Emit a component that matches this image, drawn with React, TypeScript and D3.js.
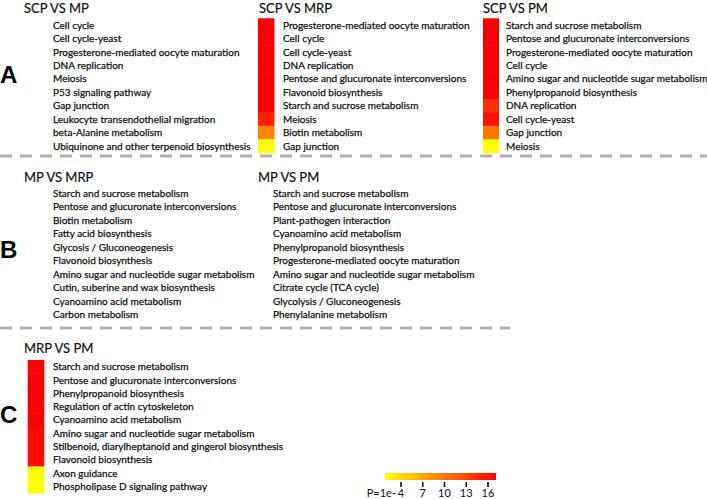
import React from 'react';
import * as d3 from 'd3';

// ---- data ----
const scpMpTerms = [
  'Cell cycle',
  'Cell cycle-yeast',
  'Progesterone-mediated oocyte maturation',
  'DNA replication',
  'Meiosis',
  'P53 signaling pathway',
  'Gap junction',
  'Leukocyte transendothelial migration',
  'beta-Alanine metabolism',
  'Ubiquinone and other terpenoid biosynthesis',
];
const scpMrpTerms = [
  'Progesterone-mediated oocyte maturation',
  'Cell cycle',
  'Cell cycle-yeast',
  'DNA replication',
  'Pentose and glucuronate interconversions',
  'Flavonoid biosynthesis',
  'Starch and sucrose metabolism',
  'Meiosis',
  'Biotin metabolism',
  'Gap junction',
];
const scpMrpLogP = [16, 16, 16, 16, 16, 16, 16, 14.5, 9.8, 4];
const scpPmTerms = [
  'Starch and sucrose metabolism',
  'Pentose and glucuronate interconversions',
  'Progesterone-mediated oocyte maturation',
  'Cell cycle',
  'Amino sugar and nucleotide sugar metabolism',
  'Phenylpropanoid biosynthesis',
  'DNA replication',
  'Cell cycle-yeast',
  'Gap junction',
  'Meiosis',
];
const scpPmLogP = [16, 16, 16, 16, 16, 16, 13.8, 15.2, 10.4, 4];
const mpMrpTerms = [
  'Starch and sucrose metabolism',
  'Pentose and glucuronate interconversions',
  'Biotin metabolism',
  'Fatty acid biosynthesis',
  'Glycosis / Gluconeogenesis',
  'Flavonoid biosynthesis',
  'Amino sugar and nucleotide sugar metabolism',
  'Cutin, suberine and wax biosynthesis',
  'Cyanoamino acid metabolism',
  'Carbon metabolism',
];
const mpPmTerms = [
  'Starch and sucrose metabolism',
  'Pentose and glucuronate interconversions',
  'Plant-pathogen interaction',
  'Cyanoamino acid metabolism',
  'Phenylpropanoid biosynthesis',
  'Progesterone-mediated oocyte maturation',
  'Amino sugar and nucleotide sugar metabolism',
  'Citrate cycle (TCA cycle)',
  'Glycolysis / Gluconeogenesis',
  'Phenylalanine metabolism',
];
const mrpPmTerms = [
  'Starch and sucrose metabolism',
  'Pentose and glucuronate interconversions',
  'Phenylpropanoid biosynthesis',
  'Regulation of actin cytoskeleton',
  'Cyanoamino acid metabolism',
  'Amino sugar and nucleotide sugar metabolism',
  'Stilbenoid, diarylheptanoid and gingerol biosynthesis',
  'Flavonoid biosynthesis',
  'Axon guidance',
  'Phospholipase D signaling pathway',
];
const mrpPmLogP = [16, 16, 16, 16, 16, 15.6, 15.6, 15.6, 4, 4];
const colorDomain = [4, 10, 16];
const legendTicks = [4, 7, 10, 13, 16];
const legendPrefix = 'P=1e-';

// ---- layout ----
const W = 707;
const H = 499;
const color = d3
  .scaleLinear<string>()
  .domain(colorDomain)
  .range(['#ffff00', '#ff8000', '#ff0000'])
  .clamp(true);

type Panel = {
  title: string;
  terms: string[];
  logP?: number[];
  titleX: number;
  titleY: number;
  textX: number;
  barX?: number;
  barW?: number;
  top: number;
  rowH: number;
};

const panels: Panel[] = [
  { title: 'SCP VS MP', terms: scpMpTerms, titleX: 24, titleY: 13, textX: 53, top: 18.3, rowH: 13.44 },
  { title: 'SCP VS MRP', terms: scpMrpTerms, logP: scpMrpLogP, titleX: 259, titleY: 13, textX: 283, barX: 258, barW: 16.5, top: 18.3, rowH: 13.44 },
  { title: 'SCP VS PM', terms: scpPmTerms, logP: scpPmLogP, titleX: 483, titleY: 13, textX: 506, barX: 483, barW: 16, top: 18.3, rowH: 13.44 },
  { title: 'MP VS MRP', terms: mpMrpTerms, titleX: 24, titleY: 182, textX: 53, top: 186.6, rowH: 13.5 },
  { title: 'MP VS PM', terms: mpPmTerms, titleX: 258, titleY: 182, textX: 273, top: 186.6, rowH: 13.5 },
  { title: 'MRP VS PM', terms: mrpPmTerms, logP: mrpPmLogP, titleX: 24, titleY: 352.5, textX: 53, barX: 27.7, barW: 16.6, top: 360, rowH: 13.3 },
];

const letters = [
  { t: 'A', y: 83 },
  { t: 'B', y: 258 },
  { t: 'C', y: 423 },
];

const FONT = 'Lato, "Open Sans", sans-serif';

function PanelView({ p }: { p: Panel }) {
  const y = d3
    .scaleBand<number>()
    .domain(p.terms.map((_, i) => i))
    .range([p.top, p.top + p.terms.length * p.rowH]);
  return (
    <g>
      <text x={p.titleX} y={p.titleY} fontSize={13} fontFamily={FONT} fill="#111" stroke="#111" strokeWidth={0.2}>
        {p.title}
      </text>
      {p.logP &&
        p.logP.map((v, i) => (
          <rect
            key={'r' + i}
            x={p.barX}
            y={y(i)!}
            width={p.barW}
            height={y.bandwidth() + 0.5}
            fill={color(v)}
          />
        ))}
      {p.terms.map((t, i) => (
        <text
          key={'t' + i}
          x={p.textX}
          y={y(i)! + y.bandwidth() / 2 + 3.6}
          fontSize={10}
          fontFamily={FONT}
          fill="#111"
          stroke="#111"
          strokeWidth={0.25}
        >
          {t}
        </text>
      ))}
    </g>
  );
}

export default function App() {
  const lx = d3.scaleLinear().domain([4, 16]).range([401, 488]);
  const barL = lx(4) - 16;
  const barR = lx(16) + 8;
  const stops = d3.range(0, 1.0001, 0.1).map((f) => ({
    off: f,
    c: color(4 + f * 12),
  }));
  return (
    <svg
      width={W}
      height={H}
      style={{ position: 'absolute', left: 0, top: 0, background: '#fff' }}
    >
      <defs>
        <linearGradient id="lg" x1="0" x2="1" y1="0" y2="0">
          {stops.map((s, i) => (
            <stop key={i} offset={s.off} stopColor={s.c} />
          ))}
        </linearGradient>
      </defs>
      <rect width={W} height={H} fill="#fff" />
      <line x1={0} x2={W} y1={156} y2={156} stroke="#b0b0b0" strokeWidth={3} strokeDasharray="12 8" />
      <line x1={0} x2={510} y1={328} y2={328} stroke="#b0b0b0" strokeWidth={3} strokeDasharray="12 8" />
      {letters.map((l) => (
        <text
          key={l.t}
          x={0}
          y={l.y}
          fontSize={24}
          fontWeight="bold"
          fontFamily='"Liberation Sans", Arial, sans-serif'
          fill="#000"
        >
          {l.t}
        </text>
      ))}
      {panels.map((p) => (
        <PanelView key={p.title} p={p} />
      ))}
      <rect x={barL} y={473} width={barR - barL} height={7} fill="url(#lg)" />
      {legendTicks.map((t) => (
        <g key={t}>
          <line x1={lx(t)} x2={lx(t)} y1={482} y2={487} stroke="#000" strokeWidth={1.5} />
          <text x={lx(t)} y={497} fontSize={11} fontFamily={FONT} textAnchor="middle" fill="#111">
            {t}
          </text>
        </g>
      ))}
      <text x={lx(4) - 5} y={497} fontSize={11} fontFamily={FONT} textAnchor="end" fill="#111">
        {legendPrefix}
      </text>
    </svg>
  );
}
